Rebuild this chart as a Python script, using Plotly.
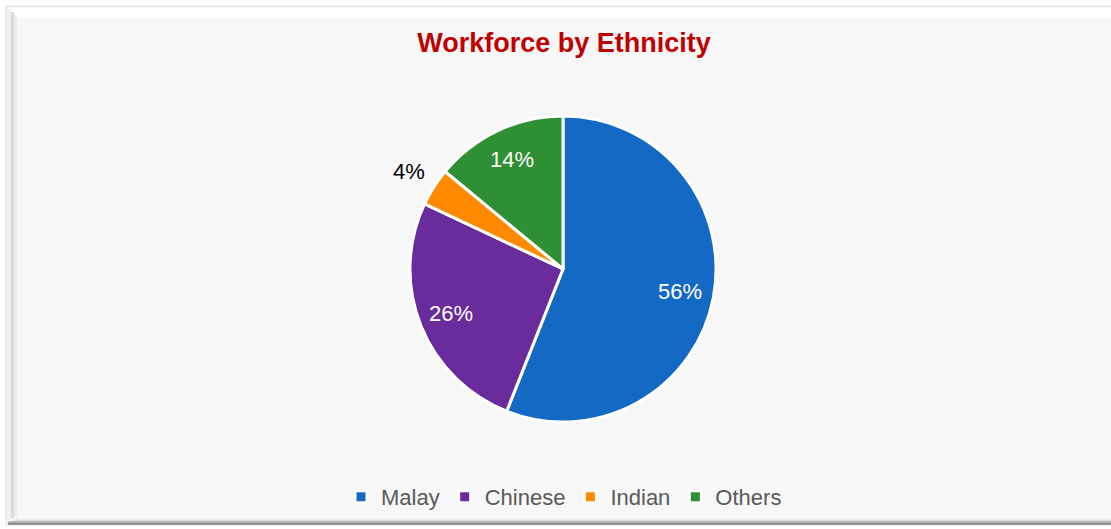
import math
import plotly.graph_objects as go

W, H = 1111, 529

categories = ["Malay", "Chinese", "Indian", "Others"]
values = [56, 26, 4, 14]
colors = ["#1469c4", "#6a2b9c", "#ff8a00", "#2f8f33"]
text_colors = ["white", "white", "black", "white"]
label_radius = [0.78, 0.79, 1.19, 0.79]   # fraction of pie radius where each label sits

FONT = "Liberation Sans, Arial, sans-serif"

def px(x):
    return x / W

def py(y):
    return 1 - y / H

# pie geometry (pixels)
CX, CY, R = 563, 269, 153

fig = go.Figure()
fig.add_trace(go.Pie(
    labels=categories,
    values=values,
    sort=False,
    direction="clockwise",
    rotation=0,
    marker=dict(colors=colors, line=dict(color="white", width=3)),
    textinfo="none",
    domain=dict(x=[px(CX - R), px(CX + R)], y=[py(CY + R), py(CY - R)]),
    hoverinfo="label+percent",
))

# percentage labels placed at each slice's mid-angle (derived from values)
annotations = []
total = sum(values)
cum = 0
for v, tc, lr in zip(values, text_colors, label_radius):
    mid = (cum + v / 2) / total * 2 * math.pi
    cum += v
    lx = CX + lr * R * math.sin(mid)
    ly = CY - lr * R * math.cos(mid)
    annotations.append(dict(
        x=px(lx), y=py(ly), xref="paper", yref="paper",
        text=f"{round(v / total * 100)}%", showarrow=False,
        xanchor="center", yanchor="middle",
        font=dict(family=FONT, size=22, color=tc),
    ))

shapes = []
# outer frame
shapes.append(dict(type="rect", xref="paper", yref="paper",
                   x0=px(6), x1=px(1120), y0=py(525), y1=py(6),
                   fillcolor="#f7f7f7", line=dict(color="#dcdcdc", width=1), layer="below"))
# top bevel
shapes.append(dict(type="rect", xref="paper", yref="paper",
                   x0=px(8), x1=px(1120), y0=py(18), y1=py(8),
                   fillcolor="#ffffff", line=dict(width=0), layer="below"))
# left bevel
shapes.append(dict(type="rect", xref="paper", yref="paper",
                   x0=px(7), x1=px(11), y0=py(520), y1=py(9),
                   fillcolor="#f0f0f0", line=dict(width=0), layer="below"))
shapes.append(dict(type="rect", xref="paper", yref="paper",
                   x0=px(11), x1=px(14), y0=py(518), y1=py(12),
                   fillcolor="#dadada", line=dict(width=0), layer="below"))
shapes.append(dict(type="rect", xref="paper", yref="paper",
                   x0=px(14), x1=px(17), y0=py(516), y1=py(15),
                   fillcolor="#ececec", line=dict(width=0), layer="below"))
# bottom shadow
for i, c in enumerate(["#ececec", "#dcdcdc", "#c4c4c4", "#aaaaaa", "#909090", "#9c9c9c"]):
    y = 519 + i
    shapes.append(dict(type="line", xref="paper", yref="paper",
                       x0=px(14 if i < 2 else 8), x1=px(1120), y0=py(y + 0.5), y1=py(y + 0.5),
                       line=dict(color=c, width=1), layer="below"))

fig.update_layout(
    width=W, height=H,
    margin=dict(l=0, r=0, t=0, b=0),
    paper_bgcolor="white",
    plot_bgcolor="white",
    title=dict(text="<b>Workforce by Ethnicity</b>", x=px(564), xanchor="center",
               y=py(43), yanchor="middle",
               font=dict(family=FONT, size=27, color="#c00000")),
    legend=dict(orientation="h", x=px(564), xanchor="center", y=py(497), yanchor="middle",
                font=dict(family=FONT, size=22, color="#595959"),
                bgcolor="rgba(0,0,0,0)", itemwidth=30, traceorder="normal"),
    shapes=shapes,
    annotations=annotations,
    showlegend=True,
)

fig.write_html("out.html")
